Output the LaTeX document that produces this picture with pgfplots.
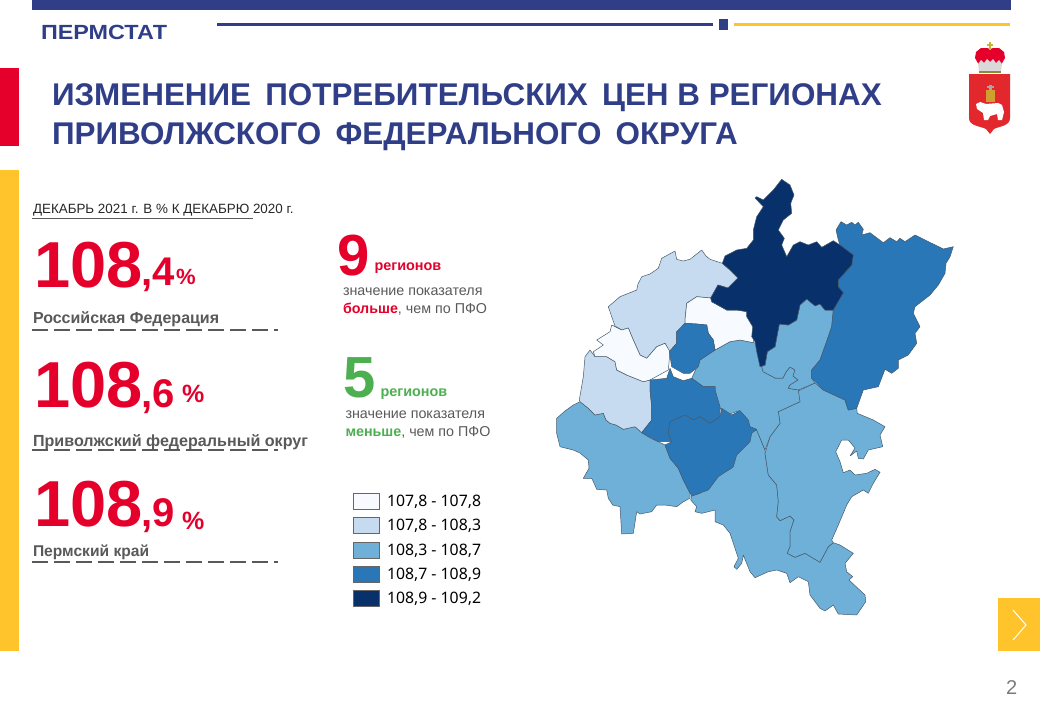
\documentclass[border=0pt]{standalone}
\usepackage{fontspec}
\setmainfont{Liberation Sans}
\newfontfamily\legfont{Noto Sans}
\usepackage{pgfplots}
\pgfplotsset{compat=1.18}
\definecolor{navy}{HTML}{2F3E87}
\definecolor{redm}{HTML}{E4002B}
\definecolor{shield}{HTML}{E2282C}
\definecolor{yel}{HTML}{FFC32B}
\definecolor{txt}{HTML}{595959}
\definecolor{grn}{HTML}{4CAF50}
\definecolor{c1}{HTML}{F7FBFF}
\definecolor{c2}{HTML}{C6DBEF}
\definecolor{c3}{HTML}{6FB0D8}
\definecolor{c4}{HTML}{2A77B8}
\definecolor{c5}{HTML}{08306B}
\definecolor{edge}{HTML}{465A6C}
\pgfplotsset{reg/.style={fill=#1,draw=edge,line width=0.5pt,line join=round,forget plot,no marks}}
% text at pixel position: x, baseline y, font size, content
\newcommand{\tx}[4]{\node[anchor=base west,inner sep=0pt,outer sep=0pt] at (axis cs:#1,#2) {\fontsize{#3}{#3}\selectfont #4};}
\begin{document}
\begin{tikzpicture}
\begin{axis}[
  hide axis, scale only axis, width=1040pt, height=720pt,
  xmin=0, xmax=1040, ymin=0, ymax=720, y dir=reverse, clip=false,
]
% page frame
\path[use as bounding box] (axis cs:0,0) rectangle (axis cs:1040,720);
\fill[navy] (axis cs:32,0) rectangle (axis cs:1011,10);
\fill[navy] (axis cs:217,23) rectangle (axis cs:713,26);
\fill[navy] (axis cs:719,19) rectangle (axis cs:728,30);
\fill[yel] (axis cs:734,23) rectangle (axis cs:1010,26);
\fill[redm] (axis cs:0,68) rectangle (axis cs:19,146);
\fill[yel] (axis cs:0,170) rectangle (axis cs:19,651);
\fill[yel] (axis cs:998,598) rectangle (axis cs:1040,651);
\draw[white,line width=1pt] (axis cs:1013,610) -- (axis cs:1026,625) -- (axis cs:1013,640);
\tx{1006}{694}{20}{\textcolor{txt!80}{2}}
\tx{41}{39}{20.5}{\textcolor{navy}{\scalebox{1.14}[1]{\bfseries ПЕРМСТАТ}}}
\tx{52}{105}{31.4}{\textcolor{navy}{\bfseries ИЗМЕНЕНИЕ\hspace{5.5pt} ПОТРЕБИТЕЛЬСКИХ\hspace{5.5pt} ЦЕН В РЕГИОНАХ}}
\tx{52}{144}{31.4}{\textcolor{navy}{\bfseries ПРИВОЛЖСКОГО\hspace{5.5pt} ФЕДЕРАЛЬНОГО\hspace{5.5pt} ОКРУГА}}
% emblem
\fill[shield] (axis cs:969,74) -- (axis cs:1010,74) -- (axis cs:1010,118) .. controls (axis cs:1010,126) and (axis cs:1000,126) .. (axis cs:994,129) -- (axis cs:990,134) -- (axis cs:986,129) .. controls (axis cs:980,126) and (axis cs:969,126) .. (axis cs:969,118) -- cycle;
\fill[white] (axis cs:976,104) -- (axis cs:980,102) -- (axis cs:986,104) -- (axis cs:998,103) -- (axis cs:1002,105) -- (axis cs:1004,112) -- (axis cs:1002,120) -- (axis cs:998,120) -- (axis cs:997,114) -- (axis cs:990,116) -- (axis cs:988,120) -- (axis cs:984,120) -- (axis cs:983,113) -- (axis cs:977,109) -- cycle;
\fill[brown!75!yellow] (axis cs:986,90) rectangle (axis cs:995,102);
\fill[gray!70] (axis cs:989,85) rectangle (axis cs:992,90);
\fill[gray!70] (axis cs:987,86) rectangle (axis cs:994,88);
\fill[redm] (axis cs:975,58) -- (axis cs:976,52) -- (axis cs:981,48) -- (axis cs:987,48) -- (axis cs:990,49) -- (axis cs:993,48) -- (axis cs:999,48) -- (axis cs:1004,52) -- (axis cs:1005,58) -- (axis cs:1001,65) -- (axis cs:979,65) -- cycle;
\fill[gray!30] (axis cs:978,64) -- (axis cs:981,60) -- (axis cs:984,63) -- (axis cs:987,59) -- (axis cs:990,62) -- (axis cs:993,59) -- (axis cs:996,63) -- (axis cs:999,60) -- (axis cs:1002,64) -- (axis cs:1001,71) -- (axis cs:979,71) -- cycle;
\fill[olive!60!gray] (axis cs:979,71) rectangle (axis cs:1001,73);
\fill[brown!50!yellow!80!gray] (axis cs:988.8,42) rectangle (axis cs:991.2,50);
\fill[brown!50!yellow!80!gray] (axis cs:987,43.5) rectangle (axis cs:993,46);
% left column
\tx{33}{213}{13.4}{\textcolor{black!85}{ДЕКАБРЬ 2021 г. В \% К ДЕКАБРЮ 2020 г.}}
\draw[txt,line width=0.8pt] (axis cs:32,218) -- (axis cs:253,218);
\tx{34}{287}{65}{\textcolor{redm}{\bfseries 108}}
\tx{141}{285}{40}{\textcolor{redm}{\bfseries ,4}}
\tx{176}{284}{22}{\textcolor{redm}{\bfseries\%}}
\tx{33}{323}{16}{\textcolor{txt}{\bfseries Российская Федерация}}
\draw[txt,line width=2pt,dash pattern=on 15.5pt off 6.5pt] (axis cs:32,330) -- (axis cs:278,330);
\tx{34}{407}{65}{\textcolor{redm}{\bfseries 108}}
\tx{141}{407}{40}{\textcolor{redm}{\bfseries ,6}}
\tx{182}{402}{25}{\textcolor{redm}{\bfseries\%}}
\tx{33}{446}{16.1}{\textcolor{txt}{\bfseries Приволжский федеральный округ}}
\draw[txt,line width=2pt,dash pattern=on 15.5pt off 6.5pt] (axis cs:32,449.5) -- (axis cs:278,449.5);
\tx{34}{526}{65}{\textcolor{redm}{\bfseries 108}}
\tx{141}{526}{40}{\textcolor{redm}{\bfseries ,9}}
\tx{182}{529}{25}{\textcolor{redm}{\bfseries\%}}
\tx{33}{556}{15.6}{\textcolor{txt}{\bfseries Пермский край}}
\draw[txt,line width=2pt,dash pattern=on 15.5pt off 6.5pt] (axis cs:32,561.5) -- (axis cs:278,561.5);
% middle column
\tx{337}{275}{58}{\textcolor{redm}{\bfseries 9}}
\tx{374.5}{270}{14.4}{\textcolor{redm}{\bfseries регионов}}
\tx{343}{295}{14.3}{\textcolor{txt}{значение показателя}}
\tx{343}{313}{14.3}{\textcolor{redm}{\bfseries больше}\textcolor{txt}{, чем по ПФО}}
\tx{343}{397}{58}{\textcolor{grn}{\bfseries 5}}
\tx{380.5}{396}{14.4}{\textcolor{grn}{\bfseries регионов}}
\tx{345.5}{418}{14.3}{\textcolor{txt}{значение показателя}}
\tx{345.5}{436}{14.3}{\textcolor{grn}{\bfseries меньше}\textcolor{txt}{, чем по ПФО}}
% legend
\fill[c1,draw=black!60,line width=1pt] (axis cs:353,493) rectangle (axis cs:379,509);
\fill[c2,draw=black!60,line width=1pt] (axis cs:353,517) rectangle (axis cs:379,533);
\fill[c3,draw=black!60,line width=1pt] (axis cs:353,542) rectangle (axis cs:379,558);
\fill[c4,draw=black!60,line width=1pt] (axis cs:353,566) rectangle (axis cs:379,582);
\fill[c5,draw=black!60,line width=1pt] (axis cs:353,590) rectangle (axis cs:379,606);
\tx{387}{506.5}{15.8}{\legfont 107,8 - 107,8}
\tx{387}{530.5}{15.8}{\legfont 107,8 - 108,3}
\tx{387}{555}{15.8}{\legfont 108,3 - 108,7}
\tx{387}{579.5}{15.8}{\legfont 108,7 - 108,9}
\tx{387}{603.5}{15.8}{\legfont 108,9 - 109,2}
% map regions, pixel coordinates
% K south-west
\addplot[reg=c3] coordinates {(580,401.7)(588,408)(595,415)(603.3,413.3)(606,420)(610,423.3)(616,425)(623.3,429.3)(635,426.7)(641.7,432.7)(650,438)(658.3,441.7)(665,445)(670,458.3)(678.3,468.3)(683.3,480)(690,493.3)(690,498.3)(683.3,501.7)(676.7,506.7)(665,505)(656.7,505)(651.7,511.7)(640,514)(636.7,511.7)(633.3,533.3)(621.7,534)(620,506.7)(612.7,505)(608.3,498.3)(606.7,490)(596.7,489.3)(594,483)(591.7,478.3)(583.3,478.3)(589,468.3)(588.3,460)(580,453)(573.3,450)(560,446.7)(556.7,433.3)(556.7,418.3)(565,411)(573.3,405)} -- cycle;
% F south with tail
\addplot[reg=c3] coordinates {(756.7,430)(765,450)(765,453.3)(768.3,475)(776.7,485)(778.3,501.7)(776.7,516.7)(780,520.7)(790,516)(794,520)(790,531.7)(790,546.7)(787.3,553.3)(795,557.3)(805,553.3)(820,562.3)(828.3,546.7)(833.3,542.7)(840,545)(853.3,553.3)(845,563.3)(846.7,571.7)(852.7,576.7)(849,580)(865,595)(865.7,601.7)(856.7,615)(838.3,614)(833.3,605)(825,611)(820,608.3)(810,595)(808.3,581.7)(798.3,576.7)(790,582.7)(786.7,573.3)(776.7,570)(768.3,571.7)(755,577.7)(750,571.7)(743.3,555)(741.7,563.3)(736.7,569.3)(734,566.7)(738.3,558.3)(730,533.3)(723.3,525)(715,521.7)(715,510)(708.3,511.7)(701.7,513.3)(695,511.7)(696.7,506.7)(690.7,500)(691.7,496)(700,493.3)(706.7,488)(713.3,478.3)(731.7,468.3)(736.7,453.3)(748.3,441.7)(751.7,431.7)} -- cycle;
% E east
\addplot[reg=c3] coordinates {(800,401.7)(796.7,391.7)(815,383)(823.3,390)(845,400)(848.3,410)(856.7,408.3)(857.3,413.3)(873.3,420)(885,426.7)(880,435)(882.7,446.7)(868.3,450)(863.3,459)(858.3,458.3)(856.7,451)(850,456)(855,448)(848.3,440)(841.7,440)(835.7,451.7)(840,461.7)(843.3,472.7)(850,470)(855,475)(866.7,473.3)(875,469.3)(880,472.3)(873.3,483.3)(868.3,493.3)(863.3,490)(851.7,496.7)(846.7,505)(838.3,525)(831.7,540)(833.3,542.7)(828.3,546.7)(820,562.3)(805,553.3)(795,557.3)(787.3,553.3)(790,546.7)(790,531.7)(794,520)(790,516)(780,520.7)(776.7,516.7)(778.3,501.7)(776.7,485)(768.3,475)(765,453.3)(770,436.7)(780,423.3)(778.3,411.7)} -- cycle;
% D centre
\addplot[reg=c3] coordinates {(691.7,378.3)(700,360)(715,350)(730,341.7)(740,340)(753.3,342.7)(756.7,343.3)(758.3,356.7)(761.7,366.7)(763.3,371.7)(775,378)(783,378)(786,372)(790,367)(795,370)(793,376)(798,380)(790,385)(788.3,388.3)(798.3,390)(800,401.7)(778.3,411.7)(780,423.3)(770,436.7)(765,450)(756.7,430)(750,426.7)(745,416.7)(739.3,410.7)(726.7,415)(720,408.3)(715,390)(715,386.7)(703.3,386.7)} -- cycle;
% C north-east of centre
\addplot[reg=c3] coordinates {(806.7,299)(820,304)(825,310)(833.3,310)(831.7,326.7)(826,343.3)(820,360)(811.7,370)(811.7,378.3)(815,383)(798.3,390)(788.3,388.3)(790,385)(798,380)(793,376)(795,370)(790,367)(786,372)(783,378)(775,378)(763,371.7)(761.7,366.7)(765,365)(767.3,351.7)(775,346.7)(779.3,324)(788.3,325)(796.7,320)(800,305)} -- cycle;
% B east
\addplot[reg=c4] coordinates {(841,221.7)(846.7,225)(851.7,222.3)(855,225)(858.3,222.3)(863.3,229.3)(861.7,235)(870,232.7)(883.3,242.7)(890,237.7)(896.7,241.7)(900,238.3)(905,241.7)(915,235)(943.3,249)(953.3,246.7)(950,256.7)(946,263.3)(945,273.3)(938.3,285)(930,295)(915,306.7)(913.3,313.3)(920,326.7)(915,333.3)(916.7,343.3)(908.3,355)(898.3,360)(898.3,368.3)(891.7,373.3)(885,369.3)(878.3,386.7)(863.3,390)(856.7,408.3)(848.3,410)(845,400)(823.3,390)(811.7,378.3)(811.7,370)(820,360)(826,343.3)(831.7,326.7)(833.3,310)(843.3,292.7)(838.3,286.7)(838.3,280)(851.7,265)(853.3,255)(840,245)(838.3,240)(836,230)} -- cycle;
% N north-west
\addplot[reg=c2] coordinates {(608.3,306.7)(620,296.7)(636.7,290)(638,284)(641.7,276.7)(650,274)(658.3,268.3)(661.7,258.3)(675,251)(676.7,259.3)(683,261)(690,259.3)(701.7,250)(706,256)(710,259.3)(722.3,263.3)(730,270)(738,278)(728,288)(718,285)(710.7,298)(696.7,296.7)(686.7,303.3)(685,320)(685,323.3)(676.7,331.7)(676.7,343.3)(669.3,351.7)(665,343.3)(656.7,346.7)(646.7,358.3)(640,355)(633.3,340)(628.3,328)(621.7,330)(615,326)(611.7,316.7)} -- cycle;
% O pale
\addplot[reg=c1] coordinates {(710.7,298)(696.7,296.7)(686.7,303.3)(685,320)(685,323.3)(696.7,324)(706.7,325)(708.3,333.3)(713.3,340)(715,350)(730,341.7)(740,340)(753.3,342.7)(755,330)(748.3,311.7)(736.7,310)(726.7,310)(711.7,301.7)} -- cycle;
% L
\addplot[reg=c2] coordinates {(590,350)(585,356.7)(583.3,376.7)(579.3,400)(580,401.7)(588,408)(595,415)(603.3,413.3)(606,420)(610,423.3)(616,425)(623.3,429.3)(635,426.7)(641.7,432.7)(651.7,420)(651.7,406.7)(650,390)(650,380)(643.3,381.7)(626.7,375)(616.7,370)(615,361.7)(606.7,356.7)(595,356.7)} -- cycle;
% M pale
\addplot[reg=c1] coordinates {(611.7,325)(610,331.7)(596.7,340)(603.3,345)(593.3,351.7)(595,356.7)(606.7,356.7)(615,361.7)(616.7,370)(626.7,375)(643.3,381.7)(650,380)(668.3,370)(670,351.7)(665,343.3)(656.7,346.7)(646.7,358.3)(640,355)(633.3,340)(628.3,328)(621.7,330)} -- cycle;
% I
\addplot[reg=c4] coordinates {(670,368.3)(673.3,376.7)(683.3,380.7)(691.7,378.3)(703.3,386.7)(715,386.7)(715,390)(720,406.7)(720,416.7)(710,423.3)(700,416.7)(693.3,420)(685,415)(670,421.7)(668.3,433.3)(671.7,441.7)(665,441.7)(658.3,441.7)(641.7,432.7)(651.7,420)(651.7,406.7)(650,390)(650,380)(666.7,378.3)} -- cycle;
% J
\addplot[reg=c4] coordinates {(670,421.7)(685,415)(693.3,420)(700,416.7)(710,423.3)(720,416.7)(721.7,408.3)(731.7,415)(740,410.7)(748.3,420)(750,426.7)(756.7,429.3)(751.7,433.3)(750,441.7)(736.7,455)(733.3,466.7)(718.3,476.7)(708.3,490)(691.7,496)(683.3,480)(678.3,468.3)(670,458.3)(665,445)(671.7,441.7)(668.3,433.3)} -- cycle;
% H
\addplot[reg=c4] coordinates {(685,323.3)(696.7,324)(706.7,325)(708.3,333.3)(713.3,340)(715,350)(700,360)(698.3,366.7)(690,373.3)(683.3,373.3)(671.7,366.7)(669.3,351.7)(676.7,343.3)(676.7,331.7)} -- cycle;
% A dark north
\addplot[reg=c5] coordinates {(781.7,179.3)(790,185)(794,195)(790.7,203.3)(791.7,213.3)(783.3,220)(778.3,230)(784.3,238.3)(781.7,245)(786.7,256.7)(793.3,245)(800,241.7)(808.3,245)(816.7,241.7)(821.7,247.3)(833.3,240.7)(840,245)(853.3,255)(851.7,265)(838.3,280)(838.3,286.7)(843.3,292.7)(833.3,310)(825,310)(820,304)(815,306)(806.7,299)(800,305)(796.7,320)(788.3,325)(779.3,324)(775,346.7)(767.3,351.7)(765,365)(760,366.7)(756.7,351.7)(755,341.7)(751.7,336.7)(752.7,326.7)(746.7,316.7)(746.7,311.7)(736.7,310)(726.7,310)(711.7,301.7)(710.7,298)(718,285)(728,288)(738,278)(730,270)(722.3,263.3)(725,256)(736.7,250)(746.7,248.3)(753.3,240)(753.3,230)(756.7,216.7)(763.3,206.7)(755,198)(756.7,196.7)(763.3,200)(773.3,190)} -- cycle;
\end{axis}
\end{tikzpicture}
\end{document}
